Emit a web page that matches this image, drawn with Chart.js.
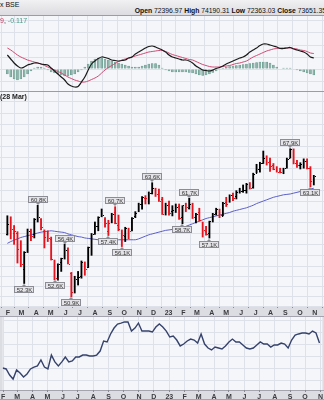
<!DOCTYPE html>
<html>
<head>
<meta charset="utf-8">
<script src="https://cdn.jsdelivr.net/npm/chart.js@4.4.1/dist/chart.umd.min.js"></script>
<style>
  body { margin: 0; background: #f5f6fa; font-family: "Liberation Sans", Arial, sans-serif; }
  #wrap { position: relative; width: 324px; height: 400px; overflow: hidden; }
  #head { position: absolute; left: 0; top: 0; width: 324px; height: 15px; background: linear-gradient(#f1f1f3, #dcdce1); border-bottom: 1px solid #9c9ca6; }
  #head .t { position: absolute; left: 0; top: 1px; font-size: 7px; color: #111; }
  #head .o { position: absolute; right: -2px; top: 7px; font-size: 6.8px; color: #111; white-space: nowrap; }
  .sep { position: absolute; left: 0; width: 324px; height: 1px; background: #9c9ca6; }
  canvas { position: absolute; left: 0; }
  .lbl { position: absolute; left: 0; font-size: 7px; white-space: nowrap; color: #222; }
</style>
</head>
<body>
<div id="wrap">
  <div id="head"><span class="t">x BSE</span><span class="o"><b>Open</b> 72396.97 <b>High</b> 74190.31 <b>Low</b> 72363.03 <b>Close</b> 73651.35</span></div>
  <canvas id="macd" width="324" height="75" style="top:16px"></canvas>
  <div class="sep" style="top:91px"></div>
  <canvas id="price" width="324" height="225" style="top:92px"></canvas>
  <canvas id="rel" width="324" height="83" style="top:317px"></canvas>
  <div class="lbl" style="top:17px"><span style="color:#c8385a">9</span>, <span style="color:#4a9a88">-0.117</span></div>
  <div class="lbl" style="top:93px;font-weight:bold">(28 Mar)</div>
</div>
<script>
// weekly bars, week 0 = 31 Jan 2022 ... week 91 = 30 Oct 2023 (values in thousands)
const open  = [57.50,58.90,57.60,57.60,55.80,53.80,55.70,57.90,57.50,59.70,59.30,57.90,57.00,57.00,54.50,52.90,54.50,55.00,55.70,53.30,
               51.50,52.90,53.00,54.40,54.00,56.00,57.70,58.50,59.60,59.30,57.90,59.00,60.00,58.60,57.80,57.30,57.80,58.00,59.60,60.20,
               61.00,61.70,61.50,62.30,62.80,62.10,61.60,59.90,61.00,60.20,60.30,60.80,59.50,60.80,60.50,61.10,59.20,60.00,58.90,57.90,
               57.60,59.10,59.90,60.40,59.60,61.20,61.30,62.10,61.90,62.70,62.60,62.70,63.40,63.10,64.80,65.30,66.10,66.60,66.30,65.80,
               65.30,65.10,65.00,65.50,66.70,67.80,66.00,65.80,65.70,66.30,65.40,63.90];
const high  = [59.62,59.50,58.50,57.80,56.80,55.60,58.10,58.10,59.30,60.85,59.30,58.00,57.90,57.20,54.70,54.30,54.90,56.43,56.00,53.40,
               53.00,53.50,54.60,54.50,56.10,57.60,58.90,59.50,60.41,59.40,59.10,59.90,60.68,59.70,58.00,58.30,58.20,59.40,60.10,61.10,
               61.90,62.00,62.45,63.58,62.90,62.80,61.80,61.10,61.35,60.80,61.00,61.00,60.80,61.10,61.68,61.10,59.90,60.50,58.90,58.40,
               59.00,59.90,60.50,60.40,61.20,61.80,62.10,62.30,62.60,62.90,63.30,63.50,63.60,64.77,65.90,66.16,67.62,67.00,66.70,66.00,
               65.60,65.40,65.40,66.70,67.93,67.90,66.40,66.10,66.60,66.60,65.60,64.50];
const low   = [57.42,57.00,56.39,54.38,54.00,52.26,55.50,56.80,57.10,58.90,58.00,56.00,56.70,54.70,52.63,52.60,53.50,54.80,54.30,50.92,
               51.30,52.10,52.80,53.10,53.90,55.20,57.50,57.90,59.50,58.30,57.37,58.80,58.70,57.90,56.15,56.70,57.00,57.90,59.40,60.10,
               60.40,61.00,61.00,62.20,61.90,61.30,59.77,59.70,59.70,59.60,60.00,59.20,58.70,60.10,60.40,59.30,58.80,59.00,57.20,57.40,
               57.09,58.90,59.70,59.40,59.60,60.70,61.20,61.40,61.60,62.30,62.40,62.30,62.80,62.90,64.80,64.90,66.00,65.80,65.00,65.20,
               64.90,64.80,64.70,65.40,66.70,65.95,65.50,65.30,65.40,65.30,63.09,63.30];
const close = [58.65,58.15,57.83,55.86,54.33,55.55,57.86,57.36,59.28,59.45,58.34,57.20,57.06,54.84,52.79,54.33,54.89,55.77,54.30,51.36,
               52.73,52.91,54.48,53.76,56.07,57.57,58.39,59.46,59.65,58.83,58.80,59.79,58.84,58.10,57.43,58.19,57.92,59.31,59.96,60.95,
               61.80,61.66,62.29,62.87,62.18,61.34,59.85,60.84,59.90,60.26,60.62,59.33,60.84,60.68,61.00,59.46,59.81,59.14,57.99,57.53,
               58.99,59.83,60.43,59.66,61.11,61.05,62.03,61.73,62.50,62.55,62.63,63.39,62.98,64.72,65.28,66.06,66.68,66.16,65.72,65.32,
               64.95,64.89,65.39,66.60,67.84,66.01,65.83,66.00,66.28,65.40,63.78,64.36];
const prevClose0 = 57.20;
const movingAvg = [56.50,56.70,56.85,57.00,57.15,57.25,57.35,57.45,57.55,57.65,57.75,57.80,57.85,57.90,57.85,57.80,57.75,57.70,57.55,57.45,
                   57.35,57.25,57.20,57.10,57.05,57.00,56.95,56.90,56.90,56.90,56.90,56.90,56.90,56.90,56.90,56.90,56.90,56.90,56.90,57.00,
                   57.15,57.30,57.45,57.55,57.65,57.75,57.85,57.95,58.00,58.05,58.10,58.15,58.25,58.40,58.55,58.70,58.85,59.00,59.15,59.30,
                   59.40,59.50,59.60,59.70,59.80,59.90,60.00,60.15,60.25,60.35,60.45,60.55,60.70,60.85,61.05,61.20,61.35,61.50,61.65,61.80,
                   61.90,62.00,62.10,62.15,62.20,62.30,62.40,62.50,62.60,62.70,62.80,62.90];

const macdLine = [1.40,1.00,0.60,0.30,0.10,0.20,0.40,0.50,0.60,0.60,0.50,0.45,0.40,0.10,-0.20,-0.50,-0.80,-1.10,-1.50,-1.70,
                  -1.80,-1.75,-1.30,-0.80,-0.10,0.50,0.80,1.05,1.20,1.15,1.05,0.90,0.85,0.80,0.85,0.90,1.10,1.20,1.50,1.70,
                  1.90,2.10,2.25,2.30,2.20,2.05,1.90,1.70,1.40,1.20,1.10,1.00,0.90,0.90,0.80,0.60,0.30,0.10,-0.10,-0.15,
                  -0.20,-0.10,0.05,0.15,0.30,0.50,0.65,0.80,0.95,1.10,1.20,1.40,1.70,1.90,2.10,2.35,2.50,2.50,2.40,2.30,
                  2.20,2.05,2.05,2.10,2.15,2.00,1.90,1.80,1.70,1.50,1.20,1.10];
const signalLine = [2.10,1.90,1.65,1.40,1.20,1.05,0.90,0.80,0.70,0.60,0.50,0.35,0.20,0.05,-0.10,-0.25,-0.40,-0.60,-0.80,-0.95,
                    -1.10,-1.20,-1.30,-1.30,-1.20,-1.05,-0.90,-0.70,-0.40,-0.10,0.15,0.35,0.55,0.75,0.90,1.00,1.10,1.20,1.30,1.40,
                    1.50,1.60,1.70,1.75,1.80,1.85,1.85,1.75,1.60,1.45,1.35,1.25,1.15,1.05,0.95,0.90,0.75,0.60,0.45,0.35,
                    0.25,0.20,0.20,0.20,0.25,0.30,0.35,0.45,0.55,0.60,0.70,0.80,1.00,1.20,1.35,1.50,1.65,1.80,1.90,2.00,
                    2.05,2.10,2.10,2.10,2.10,2.05,2.00,1.90,1.85,1.75,1.60,1.55];
const histogram = [-0.50,-0.80,-1.00,-1.10,-1.00,-0.80,-0.50,-0.20,0.10,0.20,0.20,0.10,-0.10,-0.30,-0.40,-0.50,-0.60,-0.70,-0.70,-0.60,
                   -0.50,-0.30,-0.10,0.20,0.50,0.80,1.00,1.10,1.10,1.00,0.90,0.80,0.70,0.60,0.50,0.40,0.30,0.20,0.20,0.20,
                   0.30,0.40,0.50,0.55,0.55,0.40,0.10,-0.10,-0.20,-0.30,-0.30,-0.30,-0.30,-0.30,-0.35,-0.40,-0.50,-0.60,-0.65,-0.60,
                   -0.50,-0.35,-0.20,-0.05,0.10,0.20,0.25,0.30,0.35,0.40,0.45,0.50,0.55,0.60,0.65,0.70,0.70,0.70,0.60,0.40,
                   0.20,0.05,0.10,0.10,0.10,0.00,-0.10,-0.20,-0.30,-0.40,-0.50,-0.60];

const relLine = [13.20,13.14,12.76,12.51,13.08,12.89,12.64,12.83,13.14,13.26,13.33,13.70,13.26,13.14,14.01,13.58,13.33,13.58,13.89,13.58,
                 13.64,13.89,13.89,14.01,14.01,13.95,13.95,14.01,14.26,14.89,14.83,15.33,15.70,15.95,16.01,16.08,16.08,15.51,15.70,16.01,
                 15.51,15.51,15.51,15.45,15.76,15.95,15.76,15.51,15.14,15.20,14.95,14.58,14.70,14.89,15.01,14.95,14.76,15.33,14.70,14.45,
                 14.33,14.51,14.45,14.39,14.58,14.83,15.01,14.83,14.83,14.64,14.45,14.39,14.45,14.64,14.83,14.70,14.70,14.51,14.64,14.64,
                 14.76,14.70,14.45,14.95,15.26,15.33,15.39,15.39,15.33,15.51,15.39,14.76];

// extremes marked on the price panel
const annotWeek = [5, 9, 14, 17, 19, 30, 32, 34, 43, 52, 54, 60, 84, 90];
const annotSide = ['low','high','low','high','low','low','high','low','high','low','high','low','high','low'];
const annotText = ['52.3K','60.8K','52.6K','56.4K','50.9K','57.4K','60.7K','56.1K','63.6K','58.7K','61.7K','57.1K','67.9K','63.1K'];

// month starts in week units, with their labels
const monthTicks = [0.14,4.14,8.57,12.86,17.29,21.57,26.00,30.43,34.71,39.14,43.43,47.86,52.29,56.29,60.71,65.00,69.43,73.71,78.14,82.57,86.86,91.29];
const monthLabels = ['F','M','A','M','J','J','A','S','O','N','D','23','F','M','A','M','J','J','A','S','O','N'];
const priceGrid = [50,51,52,53,54,55.2,56.4,57.6,58.8,60,61.3,62.6,64,65.4,66.8,68.2,69.7,71.2,72.8,74.4];
const macdGrid = [-1.2,0,1.2,2.4,3.6,4.8];
const relGrid = [12.45,13.2,13.95,14.7,15.45,16.2];

const weeks = close.map((c, i) => i);
const barColor = close.map((c, i) => c >= (i ? close[i - 1] : prevClose0) ? '#000000' : '#e3141e');

const PANEL = '#f5f6fa', GRID = '#dfe1ea', BAND = '#dcdde3';

const panelBg = {
  id: 'panelBg',
  beforeDraw(chart) {
    const { ctx, chartArea: a, width, height } = chart;
    ctx.save();
    ctx.fillStyle = BAND;
    ctx.fillRect(0, 0, width, height);
    ctx.fillStyle = PANEL;
    ctx.fillRect(a.left, a.top, a.right - a.left, a.bottom - a.top);
    if (a.bottom < height) {
      ctx.fillStyle = '#a4a4ae';
      ctx.fillRect(0, a.bottom, width, 1);
      ctx.fillRect(0, height - 1, width, 1);
    }
    ctx.restore();
  }
};

const ohlcTicks = {
  id: 'ohlcTicks',
  afterDatasetsDraw(chart) {
    const ys = chart.scales.y, ctx = chart.ctx, a = chart.chartArea;
    const meta = chart.getDatasetMeta(0);
    ctx.save();
    ctx.beginPath();
    ctx.rect(a.left, a.top, a.right - a.left, a.bottom - a.top);
    ctx.clip();
    meta.data.forEach((bar, i) => {
      const x = Math.round(bar.x);
      ctx.fillStyle = barColor[i];
      ctx.fillRect(x - 1, Math.round(ys.getPixelForValue(open[i])), 1, 1);
      ctx.fillRect(x + 1, Math.round(ys.getPixelForValue(close[i])), 1, 1);
    });
    ctx.restore();
  }
};

const markers = {
  id: 'markers',
  afterDatasetsDraw(chart) {
    const xs = chart.scales.x, ys = chart.scales.y, ctx = chart.ctx;
    ctx.save();
    ctx.font = '6px "Liberation Sans", Arial, sans-serif';
    ctx.textAlign = 'center';
    ctx.textBaseline = 'middle';
    annotWeek.forEach((w, k) => {
      const isHigh = annotSide[k] === 'high';
      const x = Math.round(xs.getPixelForValue(w));
      const yv = ys.getPixelForValue(isHigh ? high[w] : low[w]);
      const tw = Math.ceil(ctx.measureText(annotText[k]).width) + 4;
      const bh = 7;
      const cy = isHigh ? yv - 6 : yv + 6;
      const bx = x - tw / 2, by = Math.round(cy - bh / 2);
      ctx.fillStyle = '#e4e4e8';
      ctx.strokeStyle = '#8c8c94';
      ctx.lineWidth = 1;
      ctx.fillRect(bx, by, tw, bh);
      ctx.strokeRect(bx + 0.5, by + 0.5, tw - 1, bh - 1);
      ctx.beginPath();
      const ty = isHigh ? by + bh : by;
      ctx.moveTo(x - 2, ty);
      ctx.lineTo(x + 2, ty);
      ctx.lineTo(x, isHigh ? ty + 2 : ty - 2);
      ctx.closePath();
      ctx.fillStyle = '#8c8c94';
      ctx.fill();
      ctx.fillStyle = '#333';
      ctx.fillText(annotText[k], x + 0.5, by + bh / 2 + 0.5);
    });
    ctx.restore();
  }
};

function xAxis(bandHeight) {
  return {
    type: 'linear', min: 0, max: 91.84,
    afterBuildTicks: s => { s.ticks = monthTicks.map(v => ({ value: v })); },
    afterFit: s => { s.height = bandHeight; },
    ticks: {
      display: bandHeight > 0, autoSkip: false, maxRotation: 0, padding: 1,
      font: { size: 7, weight: 'bold', family: '"Liberation Sans", Arial, sans-serif' }, color: '#3a3a40',
      callback: (v, i) => monthLabels[i]
    },
    grid: { color: GRID, drawTicks: bandHeight > 0, tickLength: 2, tickColor: '#8a8a94' },
    border: { display: false }
  };
}

function yAxis(extra) {
  return Object.assign({
    afterFit: s => { s.width = 0; },
    ticks: { display: false },
    grid: { color: GRID, drawTicks: false },
    border: { display: false }
  }, extra);
}

const base = {
  responsive: false, animation: false, events: [],
  layout: { padding: 0 },
  plugins: { legend: { display: false }, tooltip: { enabled: false } }
};

new Chart(document.getElementById('macd'), {
  data: {
    datasets: [
      { type: 'bar', data: weeks.map(w => ({ x: w, y: histogram[w] })), backgroundColor: '#8fb5ab',
        borderColor: '#5f9487', borderWidth: 0.5, barThickness: 2, order: 3 },
      { type: 'line', data: weeks.map(w => ({ x: w, y: signalLine[w] })), borderColor: '#cf4a72',
        borderWidth: 1, pointRadius: 0, tension: 0.4, order: 2 },
      { type: 'line', data: weeks.map(w => ({ x: w, y: macdLine[w] })), borderColor: '#1a1a1a',
        borderWidth: 1.2, pointRadius: 0, tension: 0.4, order: 1 }
    ]
  },
  options: Object.assign({}, base, {
    scales: {
      x: xAxis(0),
      y: yAxis({ type: 'linear', min: -2.2, max: 5.3, afterBuildTicks: s => { s.ticks = macdGrid.map(v => ({ value: v })); } })
    }
  }),
  plugins: [panelBg]
});

new Chart(document.getElementById('price'), {
  data: {
    datasets: [
      { type: 'bar', data: weeks.map(w => ({ x: w, y: [low[w], high[w]] })), backgroundColor: barColor,
        borderWidth: 0, barThickness: 1.2, order: 1 },
      { type: 'line', data: weeks.map(w => ({ x: w, y: movingAvg[w] })), borderColor: '#5b5fc9',
        borderWidth: 1, pointRadius: 0, tension: 0.3, order: 2 }
    ]
  },
  options: Object.assign({}, base, {
    scales: {
      x: xAxis(11),
      y: yAxis({ type: 'logarithmic', min: 50.02, max: 75.85, afterBuildTicks: s => { s.ticks = priceGrid.map(v => ({ value: v })); } })
    }
  }),
  plugins: [panelBg, ohlcTicks, markers]
});

new Chart(document.getElementById('rel'), {
  type: 'line',
  data: {
    datasets: [
      { data: weeks.map(w => ({ x: w, y: relLine[w] })), borderColor: '#35426b',
        borderWidth: 1.4, pointRadius: 0, tension: 0 }
    ]
  },
  options: Object.assign({}, base, {
    scales: {
      x: xAxis(10),
      y: yAxis({ type: 'linear', min: 11.825, max: 16.39, afterBuildTicks: s => { s.ticks = relGrid.map(v => ({ value: v })); } })
    }
  }),
  plugins: [panelBg]
});
</script>
</body>
</html>
